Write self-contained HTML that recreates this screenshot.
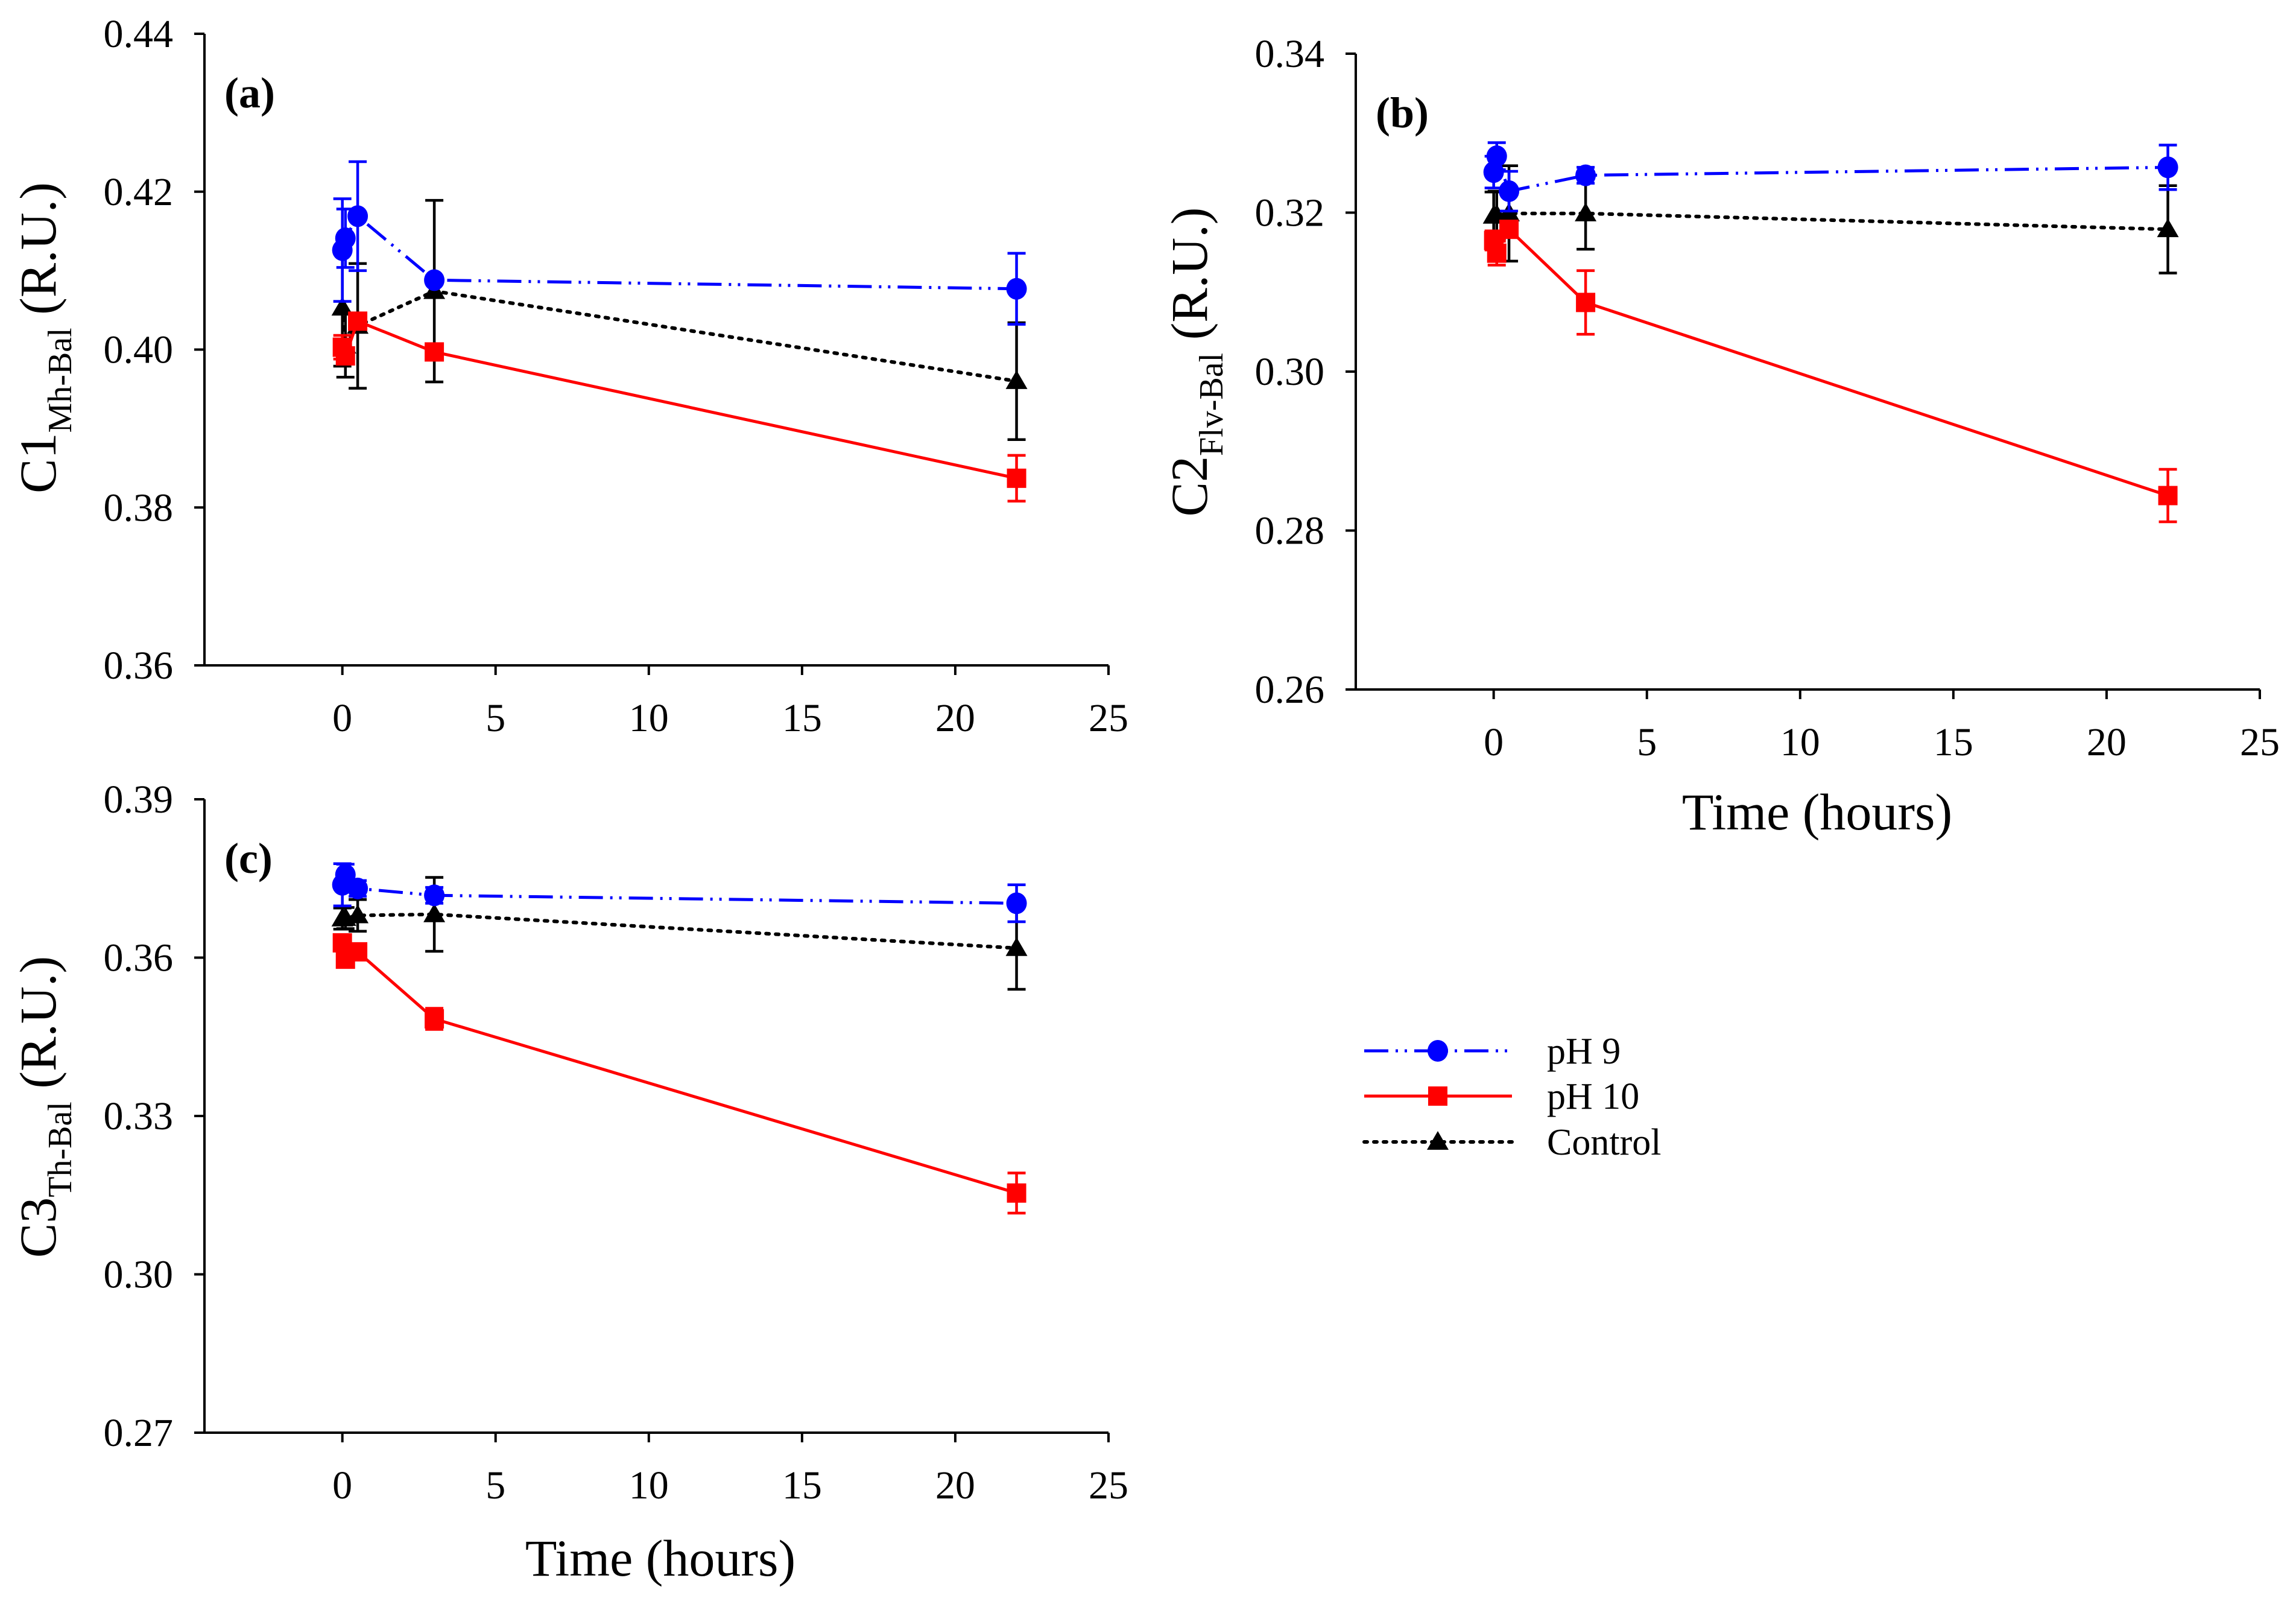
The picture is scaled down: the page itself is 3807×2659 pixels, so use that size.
<!DOCTYPE html>
<html><head><meta charset="utf-8">
<style>
html,body{margin:0;padding:0;background:#fff;}
svg{display:block;font-family:"Liberation Serif","Times New Roman",serif;}
</style></head>
<body>
<svg id="chart" width="3807" height="2659" viewBox="0 0 3807 2659" xmlns="http://www.w3.org/2000/svg"></svg>
<script>
// ---------- data ----------
const times = [0, 0.1, 0.5, 3, 22];
const xTicks = [0, 5, 10, 15, 20, 25];
const seriesNames = ["pH 9", "pH 10", "Control"];

const aTicks = [0.36, 0.38, 0.40, 0.42, 0.44];
const aPH9 = [0.4126, 0.4141, 0.4169, 0.4088, 0.4077];
const aPH9Err = [0.0065, 0.0037, 0.0069, 0.0005, 0.0045];
const aPH10 = [0.4003, 0.3992, 0.4036, 0.3997, 0.3837];
const aPH10Err = [0.0015, 0.001, 0.0005, 0.001, 0.0029];
const aCtrl = [0.4053, 0.4005, 0.4030, 0.4074, 0.3960];
const aCtrlErr = [0.0074, 0.004, 0.0079, 0.0115, 0.0074];

const bTicks = [0.26, 0.28, 0.30, 0.32, 0.34];
const bPH9 = [0.3251, 0.3271, 0.3227, 0.3247, 0.3257];
const bPH9Err = [0.002, 0.0017, 0.0025, 0.001, 0.0028];
const bPH10 = [0.3165, 0.3149, 0.3179, 0.3087, 0.2844];
const bPH10Err = [0.0012, 0.0015, 0.001, 0.004, 0.0033];
const bCtrl = [0.3196, 0.3197, 0.3199, 0.3199, 0.3179];
const bCtrlErr = [0.003, 0.003, 0.006, 0.0045, 0.0055];

const cTicks = [0.27, 0.30, 0.33, 0.36, 0.39];
const cPH9 = [0.3738, 0.3757, 0.3731, 0.3718, 0.3703];
const cPH9Err = [0.004, 0.002, 0.0015, 0.0015, 0.0035];
const cPH10 = [0.3628, 0.3597, 0.3611, 0.3484, 0.3154];
const cPH10Err = [0.001, 0.001, 0.001, 0.002, 0.0038];
const cCtrl = [0.3674, 0.3675, 0.3680, 0.3682, 0.3618];
const cCtrlErr = [0.002, 0.002, 0.003, 0.007, 0.0078];

// ---------- drawing ----------
const NS = "http://www.w3.org/2000/svg";
const svg = document.getElementById("chart");
function mk(tag, attrs, parent, text) {
  const e = document.createElementNS(NS, tag);
  for (const k in attrs) e.setAttribute(k, attrs[k]);
  if (text !== undefined) e.textContent = text;
  (parent || svg).appendChild(e);
  return e;
}
const BLUE = "#0000ff", RED = "#ff0000", BLACK = "#000";
const DASH9 = "40 12 4 11 4 12";
const DOT = "5 11";

function marker(g, kind, cx, cy, color) {
  let m;
  if (kind === "circle") m = mk("ellipse", {cx: cx, cy: cy, rx: 17, ry: 18, fill: color}, g);
  else if (kind === "square") m = mk("rect", {x: cx - 16, y: cy - 16, width: 32, height: 32, fill: color}, g);
  else m = mk("polygon", {points: (cx) + "," + (cy - 18) + " " + (cx + 18) + "," + (cy + 13) + " " + (cx - 18) + "," + (cy + 13), fill: color}, g);
  return m;
}

function panel(cfg) {
  const {id, left, top, bottom, yTicks, label, sub, titleY, series, xTitle, xTitleX, xTitleY} = cfg;
  const right = left + 1499;
  const xMin = -4.5, xMax = 25;
  const x0 = left + (0 - xMin) / (xMax - xMin) * (right - left);
  const sx = v => x0 + v * (right - x0) / 25;
  const yMin = yTicks[0], yMax = yTicks[yTicks.length - 1];
  const sy = v => bottom - (v - yMin) / (yMax - yMin) * (bottom - top);

  const g = mk("g", {});
  
  

  const ax = mk("path", {d: `M${left},${top} L${left},${bottom} L${right},${bottom}`, fill: "none", stroke: "#000", "stroke-width": 4}, g);
  
  

  yTicks.forEach(t => {
    const y = sy(t);
    mk("line", {x1: left - 17, y1: y, x2: left, y2: y, stroke: "#000", "stroke-width": 4}, g);
    const tl = mk("text", {x: left - 52, y: y + 22, "font-size": 66, "text-anchor": "end"}, g, t.toFixed(2));
    
    
  });
  xTicks.forEach(t => {
    const x = sx(t);
    mk("line", {x1: x, y1: bottom, x2: x, y2: bottom + 16, stroke: "#000", "stroke-width": 4}, g);
    const tl = mk("text", {x: x, y: bottom + 109, "font-size": 66, "text-anchor": "middle"}, g, String(t));
    
    
  });

  const pl = mk("text", {x: left + 33, y: top + 122, "font-size": 72, "font-weight": "bold"}, g, label);
  
  

  const yt = mk("text", {transform: `translate(${left - 247},${titleY}) rotate(-90)`, "font-size": 86, "text-anchor": "middle"}, g);
  
  
  mk("tspan", {}, yt, sub[0]);
  mk("tspan", {"font-size": 56, dy: 26}, yt, sub[1]);
  mk("tspan", {dy: -26}, yt, " (R.U.)");

  if (xTitle) {
    const xt = mk("text", {x: xTitleX, y: xTitleY, "font-size": 86, "text-anchor": "middle"}, g, "Time (hours)");
    
    
  }

  series.forEach(s => {
    const sg = mk("g", {}, g);
    
    
    s.vals.forEach((v, i) => {
      const x = sx(times[i]);
      const y1 = sy(v + s.err[i]), y2 = sy(v - s.err[i]);
      const eb = mk("path", {d: `M${x},${y1} L${x},${y2} M${x - 15},${y1} L${x + 15},${y1} M${x - 15},${y2} L${x + 15},${y2}`, stroke: s.color, "stroke-width": 4.5, fill: "none"}, sg);
      
      
    });
    const pts = s.vals.map((v, i) => sx(times[i]) + "," + sy(v)).join(" ");
    const attrs = {points: pts, fill: "none", stroke: s.color, "stroke-width": s.dash === DOT ? 6 : 5};
    if (s.dash) attrs["stroke-dasharray"] = s.dash;
    if (s.dash === DOT) attrs["stroke-linecap"] = "round";
    const ln = mk("polyline", attrs, sg);
    
    
    s.vals.forEach((v, i) => {
      const m = marker(sg, s.kind, sx(times[i]), sy(v), s.color);
      
      
    });
  });
}

function mkSeries(p9, p9e, p10, p10e, c, ce) {
  return [
    {name: "control", vals: c, err: ce, color: BLACK, kind: "triangle", dash: DOT},
    {name: "ph10", vals: p10, err: p10e, color: RED, kind: "square", dash: null},
    {name: "ph9", vals: p9, err: p9e, color: BLUE, kind: "circle", dash: DASH9}
  ];
}

panel({id: "a", left: 339, top: 56, bottom: 1103, yTicks: aTicks, label: "(a)", sub: ["C1", "Mh-Bal"], titleY: 560,
  series: mkSeries(aPH9, aPH9Err, aPH10, aPH10Err, aCtrl, aCtrlErr), xTitle: false});
panel({id: "b", left: 2248, top: 89, bottom: 1143, yTicks: bTicks, label: "(b)", sub: ["C2", "Flv-Bal"], titleY: 600,
  series: mkSeries(bPH9, bPH9Err, bPH10, bPH10Err, bCtrl, bCtrlErr), xTitle: true, xTitleX: 3013, xTitleY: 1375});
panel({id: "c", left: 339, top: 1325, bottom: 2375, yTicks: cTicks, label: "(c)", sub: ["C3", "Th-Bal"], titleY: 1835,
  series: mkSeries(cPH9, cPH9Err, cPH10, cPH10Err, cCtrl, cCtrlErr), xTitle: true, xTitleX: 1095, xTitleY: 2612});

const lg = mk("g", {});


const legKinds = ["circle", "square", "triangle"];
const legColors = [BLUE, RED, BLACK];
const legDash = [DASH9, null, DOT];
const legY = [1742, 1817, 1893];
seriesNames.forEach((n, i) => {
  const eg = mk("g", {}, lg);
  
  
  const a = {x1: 2262, y1: legY[i], x2: 2507, y2: legY[i], stroke: legColors[i], "stroke-width": i === 2 ? 6 : 5};
  if (legDash[i]) a["stroke-dasharray"] = legDash[i];
  if (i === 2) a["stroke-linecap"] = "round";
  mk("line", a, eg);
  marker(eg, legKinds[i], 2384, legY[i], legColors[i]);
  mk("text", {x: 2565, y: legY[i] + 21, "font-size": 62}, eg, n);
});
</script>
</body></html>
